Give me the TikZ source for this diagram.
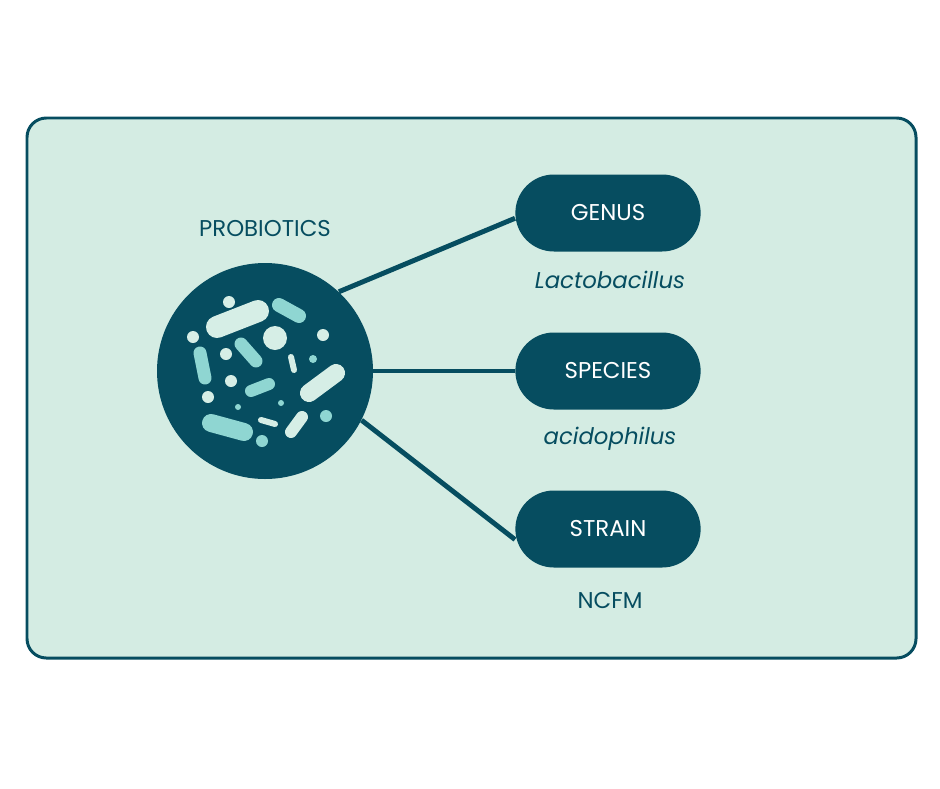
\documentclass[tikz,border=0pt]{standalone}
\usepackage{fontspec}
\setmainfont{Poppins}
\usepackage{tikz}
\definecolor{deep}{HTML}{064D60}
\definecolor{mint}{HTML}{D4ECE3}
\definecolor{pale}{HTML}{D6EEE6}
\definecolor{aqua}{HTML}{8FD6D2}
\tikzset{
  pill/.style={rounded rectangle, fill=deep, text=white, minimum width=197*0.02cm, minimum height=77*0.02cm, font=\fontsize{13}{15}\selectfont},
  tag/.style={text=deep, font=\fontsize{13}{15}\selectfont},
  bug/.style={line cap=round, line width=#1*0.02cm}
}
\usetikzlibrary{shapes.misc}
\begin{document}
\begin{tikzpicture}[x=0.02cm, y=-0.02cm]
			\useasboundingbox (0,0) rectangle (940,788);
			\draw[fill=mint, draw=deep, line width=1.7pt, rounded corners=11pt] (27,118) rectangle (916,658);
			
			\node[shape=circle, fill=deep, minimum size=216*0.02cm, inner sep=0pt] (circ) at (265,371) {};
			\node[tag] (prob) at (265,229) {PROBIOTICS};
			
			\node[pill] (genus) at (608,213) {GENUS};
			\node[pill] (species) at (608,371) {SPECIES};
			\node[pill] (strain) at (608,529) {STRAIN};
			\node[tag] (lacto) at (610,280) {\itshape Lactobacillus};
			\node[tag] (acido) at (610,439) {\itshape acidophilus};
			\node[tag] (ncfm) at (610,600) {NCFM};
			
			\path [-, line width=2.8pt, deep] (circ.47) edge ([yshift=-3pt]genus.west);
			\path [-, line width=2.8pt, deep] (circ.east) edge (species.west);
			\path [-, line width=2.8pt, deep] (circ.-27) edge ([yshift=-6pt]strain.west);
			
			% pale bugs
			\fill[pale] (229,302) circle (6) (193,337) circle (6) (275,338) circle (12)
				(323,335) circle (6) (226,354) circle (6) (231,381) circle (6) (208,397) circle (6);
			\draw[pale, bug=22] (217,327) -- (258,311);
			\draw[pale, bug=6] (291,357) -- (294,370);
			\draw[pale, bug=18] (309,393) -- (336,373);
			\draw[pale, bug=6] (261,420) -- (275,424);
			\draw[pale, bug=12] (302,417) -- (291,432);
			% aqua bugs
			\fill[aqua] (313,359) circle (4) (238,407) circle (3) (281,403) circle (3)
				(326,416) circle (6) (262,441) circle (6);
			\draw[aqua, bug=14] (279,305) -- (299,316);
			\draw[aqua, bug=13] (200,353) -- (205,378);
			\draw[aqua, bug=13] (241,344) -- (256,361);
			\draw[aqua, bug=12] (251,391) -- (269,384);
			\draw[aqua, bug=18] (211,423) -- (244,432);
		\end{tikzpicture}
\end{document}
